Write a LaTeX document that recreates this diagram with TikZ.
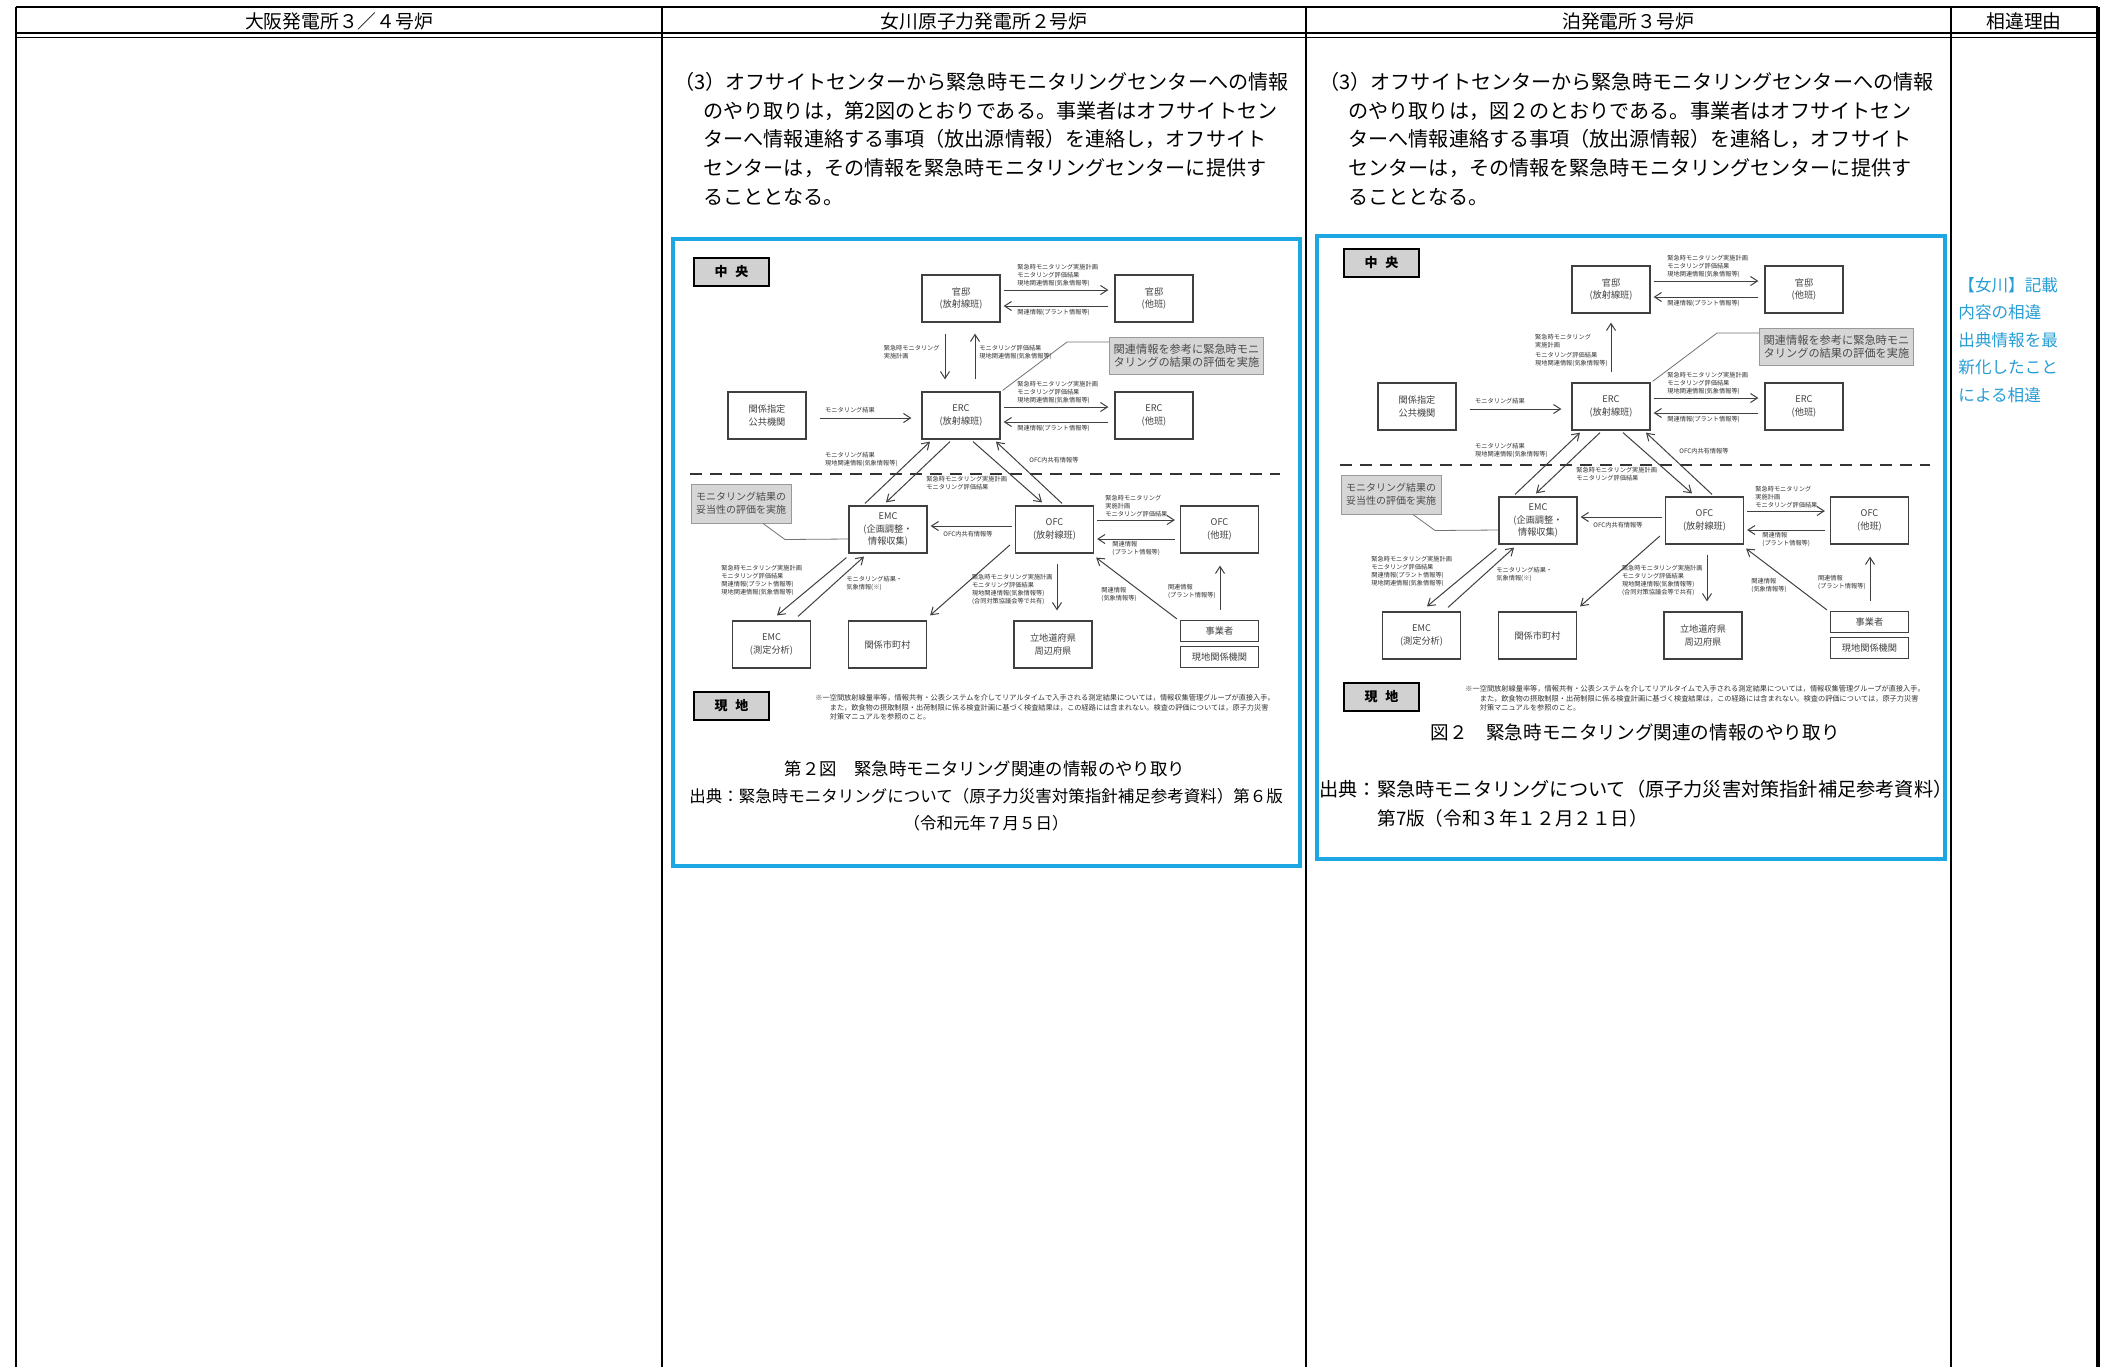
\documentclass[tikz,border=0pt]{standalone}
\usepackage{fontspec}
\setmainfont{Noto Sans CJK JP}
\usepackage{tikz}
\usetikzlibrary{positioning,arrows.meta}
\usepackage{xcolor}
\definecolor{framecyan}{RGB}{28,166,226}
\definecolor{notecyan}{RGB}{40,158,214}
\definecolor{calloutgray}{RGB}{214,214,214}

\tikzset{
  unit/.style={draw=black!75,line width=0.6pt,fill=white,minimum width=39pt,minimum height=23.5pt,inner sep=0pt,align=center,font=\fontsize{4.6}{6.4}\selectfont,text=black!75},
  thinunit/.style={unit,minimum height=10.5pt},
  areatag/.style={draw=black,line width=1pt,fill=black!18,minimum width=37.5pt,minimum height=14pt,inner sep=0pt,font=\fontsize{6.5}{6.5}\selectfont\bfseries},
  callout/.style={draw=black!40,line width=0.5pt,fill=calloutgray,inner sep=0pt,align=left,text=black!70},
  lbl/.style={inner sep=0pt,align=left,font=\fontsize{3.1}{4}\selectfont,text=black!80},
  flow/.style={->,draw=black!75,line width=0.5pt},
  lead/.style={draw=black!55,line width=0.4pt},
  divide/.style={draw=black!80,line width=1pt,dash pattern=on 6pt off 4pt},
  para/.style={inner sep=0pt,align=left,font=\fontsize{10.05}{14.5}\selectfont},
}

% shared part of the monitoring flow figure
\newcommand{\monflow}{%
  \node[areatag] (chuo) at (731.5,272) {中\hspace{0.6em}央};
  \node[areatag] (genchi) at (731.5,706) {現\hspace{0.6em}地};
  \node[unit] (kantei) at (961,298.5) {官邸\\(放射線班)};
  \node[unit] (kanteiO) at (1154,298.5) {官邸\\(他班)};
  \node[unit] (kokyo) at (767,415.5) {関係指定\\公共機関};
  \node[unit] (erc) at (961,415.5) {ERC\\(放射線班)};
  \node[unit] (ercO) at (1154,415.5) {ERC\\(他班)};
  \node[unit] (emc) at (888,529.5) {EMC\\(企画調整・\\情報収集)};
  \node[unit] (ofc) at (1054.5,529.5) {OFC\\(放射線班)};
  \node[unit] (ofcO) at (1219.5,529.5) {OFC\\(他班)};
  \node[unit] (emcM) at (771.5,644.5) {EMC\\(測定分析)};
  \node[unit] (shichoson) at (887.5,644.5) {関係市町村};
  \node[unit] (ritchi) at (1053,644.5) {立地道府県\\周辺府県};
  \node[thinunit] (jigyo) at (1219.5,631) {事業者};
  \node[thinunit] (genchiK) at (1219.5,657) {現地関係機関};
  \node[callout,minimum width=77pt,minimum height=18.5pt,font=\fontsize{5.6}{6.6}\selectfont] (hyoka) at (1186.5,355.5) {関連情報を参考に緊急時モニ\\タリングの結果の評価を実施};
  \node[callout,minimum width=50pt,minimum height=19.5pt,font=\fontsize{5}{6.6}\selectfont] (datosei) at (741,503.5) {モニタリング結果の\\妥当性の評価を実施};
  \draw[divide] (690,474) -- (1280,474);
  % central level
  \draw[flow] ([shift={(3,-8.5)}]kantei.east) -- ([shift={(-6,-8.5)}]kanteiO.west);
  \draw[flow] ([shift={(-6,7.5)}]kanteiO.west) -- ([shift={(3,7.5)}]kantei.east);
  \node[lbl,anchor=south west] (lbKa) at (1017,287) {緊急時モニタリング実施計画\\モニタリング評価結果\\現地関連情報(気象情報等)};
  \node[lbl,anchor=north west] (lbKb) at (1017,309) {関連情報(プラント情報等)};
  \draw[flow] ([shift={(3,-8.5)}]erc.east) -- ([shift={(-6,-8.5)}]ercO.west);
  \draw[flow] ([shift={(-6,6.5)}]ercO.west) -- ([shift={(3,6.5)}]erc.east);
  \node[lbl,anchor=south west] (lbEa) at (1017,404) {緊急時モニタリング実施計画\\モニタリング評価結果\\現地関連情報(気象情報等)};
  \node[lbl,anchor=north west] (lbEb) at (1017,425) {関連情報(プラント情報等)};
  \draw[flow] ([shift={(13,2.5)}]kokyo.east) -- ([shift={(-10,2.5)}]erc.west);
  \node[lbl,anchor=south] (lbKo) at (850,413) {モニタリング結果};
  \draw[lead] ([yshift=6.75pt]hyoka.west) -- ++(-42,0) -- ([shift={(2,-1)}]erc.north east);
  % across the dashed line
  \draw[flow] ([shift={(-23,-2)}]emc.north) -- ([shift={(-31,2)}]erc.south);
  \draw[flow] ([shift={(-11,2)}]erc.south) -- ([shift={(-2,-3)}]emc.north);
  \draw[flow] ([shift={(12,2)}]erc.south) -- ([shift={(-12.5,-3)}]ofc.north);
  \draw[flow] ([shift={(7.5,-2)}]ofc.north) -- ([shift={(35,2)}]erc.south);
  \node[lbl,anchor=east] (lbEm) at (898,459) {モニタリング結果\\現地関連情報(気象情報等)};
  \node[lbl,anchor=north west] (lbEo) at (926,476) {緊急時モニタリング実施計画\\モニタリング評価結果};
  \node[lbl,anchor=west] (lbOe) at (1029,460) {OFC内共有情報等};
  % local level
  \draw[flow] ([shift={(-3,-3.5)}]ofc.west) -- ([shift={(3,-3.5)}]emc.east);
  \node[lbl,anchor=north] (lbOm) at (968,531) {OFC内共有情報等};
  \draw[flow] ([shift={(3,-9.5)}]ofc.east) -- ([shift={(-5,-9.5)}]ofcO.west);
  \draw[flow] ([shift={(-5,9.5)}]ofcO.west) -- ([shift={(3,9.5)}]ofc.east);
  \node[lbl,anchor=south west] (lbOa) at (1105,517) {緊急時モニタリング\\実施計画\\モニタリング評価結果};
  \node[lbl,anchor=north west] (lbOb) at (1112,541) {関連情報\\(プラント情報等)};
  \draw[flow] ([shift={(2.5,10)}]ofc.south) -- ([shift={(4,-10)}]ritchi.north);
  \node[lbl,anchor=east] (lbOr) at (1053,589) {緊急時モニタリング実施計画\\モニタリング評価結果\\現地関連情報(気象情報等)\\(合同対策協議会等で共有)};
  \draw[flow] ([shift={(-5,15.5)}]ofc.west) -- ([shift={(3,-5)}]shichoson.north east);
  \draw[flow] ([shift={(-2,4)}]emc.south west) -- ([shift={(5.5,-5)}]emcM.north);
  \draw[flow] ([shift={(26.5,-4)}]emcM.north) -- ([shift={(-24,3)}]emc.south);
  \node[lbl,anchor=west] (lbMa) at (721,580) {緊急時モニタリング実施計画\\モニタリング評価結果\\関連情報(プラント情報等)\\現地関連情報(気象情報等)};
  \node[lbl,anchor=west] (lbMb) at (846,583) {モニタリング結果・\\気象情報(※)};
  \draw[flow] ([shift={(-3,-1)}]jigyo.north west) -- ([shift={(2,4)}]ofc.south east);
  \node[lbl,anchor=west] (lbJo) at (1101,594) {関連情報\\(気象情報等)};
  \draw[flow] ([shift={(0.5,-10)}]jigyo.north) -- ([shift={(0.5,12)}]ofcO.south);
  \node[lbl,anchor=east] (lbJf) at (1216,591) {関連情報\\(プラント情報等)};
  \draw[lead] ([xshift=11pt]datosei.south) -- ++(22,16) -- ([yshift=-4.75pt]emc.west);
  \node[lbl,anchor=north west,font=\fontsize{3.6}{4.8}\selectfont] (note) at (815,694) {※一空間放射線量率等，情報共有・公表システムを介してリアルタイムで入手される測定結果については，情報収集管理グループが直接入手。\\\hspace*{2em}また，飲食物の摂取制限・出荷制限に係る検査計画に基づく検査結果は，この経路には含まれない。検査の評価については，原子力災害\\\hspace*{2em}対策マニュアルを参照のこと。};
}

\begin{document}
\begin{tikzpicture}[x=0.5pt,y=-0.5pt,>={Straight Barb[length=3.5pt,width=4.5pt]}]
\useasboundingbox (0,0) rectangle (2105,1367);
\fill[white] (0,0) rectangle (2105,1367);

% table
\draw[line width=1.3pt] (16,7) -- (2098,7);
\draw[line width=0.6pt] (16,33) -- (2098,33);
\draw[line width=0.6pt] (16,37.5) -- (2098,37.5);
\foreach \cx in {16,662,1306,1951}
  \draw[line width=0.8pt] (\cx,7) -- (\cx,1367);
\draw[line width=1.6pt] (2098,7) -- (2098,1367);
\node[font=\fontsize{9.4}{9.4}\selectfont] (hOsaka) at (339,21) {大阪発電所３／４号炉};
\node[font=\fontsize{9.4}{9.4}\selectfont] (hOnagawa) at (984,21) {女川原子力発電所２号炉};
\node[font=\fontsize{9.4}{9.4}\selectfont] (hTomari) at (1628,21) {泊発電所３号炉};
\node[font=\fontsize{9.4}{9.4}\selectfont] (hReason) at (2024,21) {相違理由};

% paragraphs
\node[para,anchor=west] (onaText) at (674,139) {（3）オフサイトセンターから緊急時モニタリングセンターへの情報\\\hspace*{1.45em}のやり取りは，第2図のとおりである。事業者はオフサイトセン\\\hspace*{1.45em}ターへ情報連絡する事項（放出源情報）を連絡し，オフサイト\\\hspace*{1.45em}センターは，その情報を緊急時モニタリングセンターに提供す\\\hspace*{1.45em}ることとなる。};
\node[para,anchor=west] (tomText) at (1319,139) {（3）オフサイトセンターから緊急時モニタリングセンターへの情報\\\hspace*{1.45em}のやり取りは，図２のとおりである。事業者はオフサイトセン\\\hspace*{1.45em}ターへ情報連絡する事項（放出源情報）を連絡し，オフサイト\\\hspace*{1.45em}センターは，その情報を緊急時モニタリングセンターに提供す\\\hspace*{1.45em}ることとなる。};

% Onagawa figure
\draw[framecyan,line width=2pt] (673,239) rectangle (1300,866);
\begin{scope}[name prefix=on-]
  \monflow
  \draw[flow] ([shift={(-16,11)}]kantei.south) -- ([shift={(-16,-12)}]erc.north);
  \draw[flow] ([shift={(14,-12)}]erc.north) -- ([shift={(14,11)}]kantei.south);
  \node[lbl,anchor=east] (lbKd) at (940,352) {緊急時モニタリング\\実施計画};
  \node[lbl,anchor=west] (lbKu) at (979,352) {モニタリング評価結果\\現地関連情報(気象情報等)};
\end{scope}
\node[font=\fontsize{8.7}{8.7}\selectfont] (onaCap) at (985,769) {第２図　緊急時モニタリング関連の情報のやり取り};
\node[font=\fontsize{8.25}{8.25}\selectfont] (onaSrc) at (986,796) {出典：緊急時モニタリングについて（原子力災害対策指針補足参考資料）第６版};
\node[font=\fontsize{8.25}{8.25}\selectfont] (onaDate) at (986,823) {（令和元年７月５日）};

% Tomari figure
\draw[framecyan,line width=2pt] (1317,236) rectangle (1945,859);
\begin{scope}[shift={(650,-9)},name prefix=to-]
  \monflow
  \draw[flow] ([shift={(0,-10)}]erc.north) -- ([shift={(0,9)}]kantei.south);
  \node[lbl,anchor=east] (lbKu) at (958,359) {緊急時モニタリング\\実施計画\\[1pt]モニタリング評価結果\\現地関連情報(気象情報等)};
\end{scope}
\node[font=\fontsize{9.3}{9.3}\selectfont] (tomCap) at (1635,732) {図２　緊急時モニタリング関連の情報のやり取り};
\node[font=\fontsize{9.6}{9.6}\selectfont,anchor=west,inner sep=0pt] (tomSrc) at (1319,789) {出典：緊急時モニタリングについて（原子力災害対策指針補足参考資料）};
\node[font=\fontsize{9.3}{9.3}\selectfont,anchor=west,inner sep=0pt] (tomDate) at (1377,818) {第7版（令和３年１２月２１日）};

% reason column
\node[inner sep=0pt,align=left,anchor=west,text=notecyan,font=\fontsize{8.3}{13.8}\selectfont] (reason) at (1958,340) {【女川】記載\\内容の相違\\出典情報を最\\新化したこと\\による相違};
\end{tikzpicture}
\end{document}
